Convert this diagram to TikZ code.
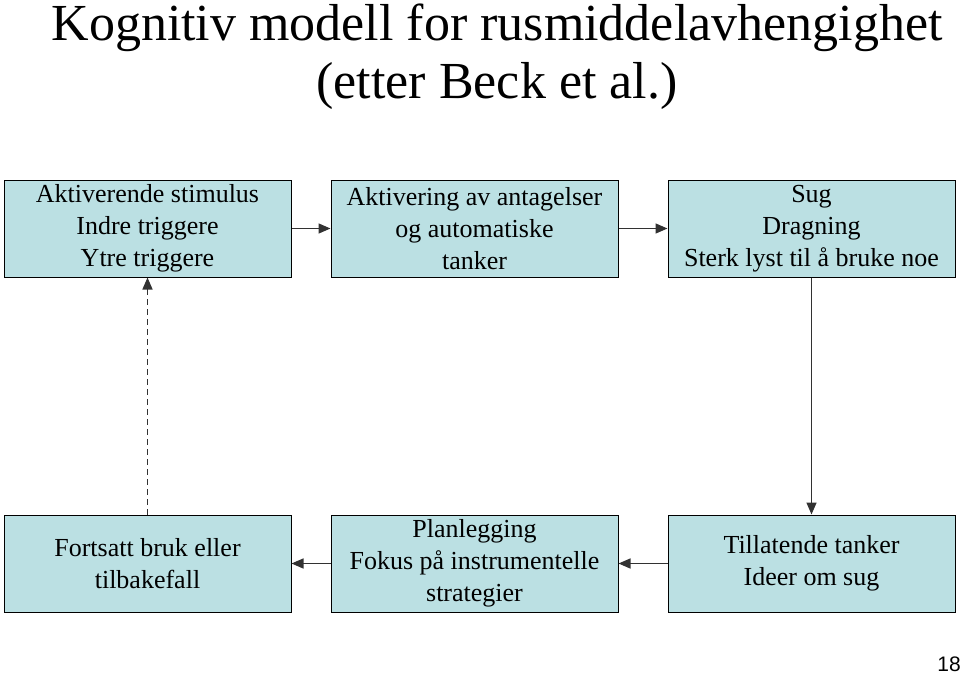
\documentclass[tikz,border=0pt]{standalone}
\usepackage{fontspec}
\setmainfont{Liberation Serif}
\setsansfont{Liberation Sans}
\usetikzlibrary{arrows.meta}
\definecolor{boxfill}{RGB}{187,224,227}
\definecolor{linegray}{RGB}{50,50,50}

\begin{document}
\begin{tikzpicture}[x=1pt,y=-1pt,
  box/.style={draw=black,fill=boxfill,line width=1pt,minimum width=287pt,minimum height=97pt,
    inner sep=0pt,align=center,font=\fontsize{26}{32}\selectfont},
  link/.style={draw=linegray,line width=1.5pt,-{Triangle[length=12pt,width=10pt]}},
  back/.style={link,dashed,dash pattern=on 6pt off 4pt}]
  \useasboundingbox (0,0) rectangle (960,674);

  \node (title) at (497,57) [align=center,font=\fontsize{52}{58}\selectfont]
    {Kognitiv modell for rusmiddelavhengighet\\(etter Beck et al.)};

  \node[box] (stimulus) at (147.5,228.5) {Aktiverende stimulus\\Indre triggere\\Ytre triggere};
  \node[box] (antagelser) at (474.5,228.5) {Aktivering av antagelser\\og automatiske\\tanker};
  \node[box] (sug) at (811.5,228.5) {Sug\\Dragning\\Sterk lyst til å bruke noe};

  \node[box] (bruk) at (147.5,563.5) {Fortsatt bruk eller\\tilbakefall};
  \node[box] (plan) at (474.5,563.5) {Planlegging\\Fokus på instrumentelle\\strategier};
  \node[box] (tillatende) at (811.5,563.5) {Tillatende tanker\\Ideer om sug};

  \node (page) at (949,664) [font=\sffamily\fontsize{21}{21}\selectfont] {18};

  \draw[link] (stimulus) -- (antagelser);
  \draw[link] (antagelser) -- (sug);
  \draw[link] (sug) -- (tillatende);
  \draw[link] (tillatende) -- (plan);
  \draw[link] (plan) -- (bruk);
  \draw[back] (bruk) -- (stimulus);
\end{tikzpicture}
\end{document}
